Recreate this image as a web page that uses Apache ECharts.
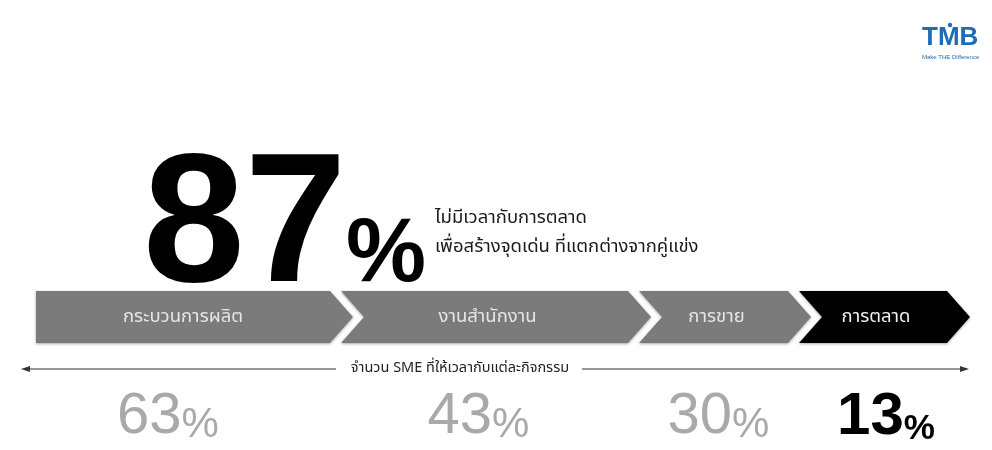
<!DOCTYPE html>
<html><head><meta charset="utf-8">
<script src="https://cdn.jsdelivr.net/npm/echarts@6/dist/echarts.min.js"></script>
<style>html,body{margin:0;padding:0;background:#fff}#c{width:992px;height:450px}</style>
</head><body><div id="c"></div>
<script>
// ---- data ----
const activities = ['กระบวนการผลิต', 'งานสำนักงาน', 'การขาย', 'การตลาด'];
const smeShare = [63, 43, 30, 13];
const highlightIndex = 3;
const headlineValue = 87;
const headlineLines = ['ไม่มีเวลากับการตลาด', 'เพื่อสร้างจุดเด่น ที่แตกต่างจากคู่แข่ง'];
const axisCaption = 'จำนวน SME ที่ให้เวลากับแต่ละกิจกรรม';
const brandName = 'TMB';
const brandTagline = 'Make THE Difference';

// ---- layout (not data) ----
const chevronWidths = [317, 310, 172, 171];
const chevronOverlap = 12;
const tipDepth = 23;
const pctShift = [-15, -9, 2, 10];
const thaiFont = '"Noto Sans Thai", "Noto Sans Thai UI", "Noto Sans", sans-serif';
const latinFont = '"Liberation Sans", Arial, sans-serif';

const segData = [];
let cursor = 0;
activities.forEach((name, i) => {
  const start = cursor;
  const end = start + chevronWidths[i];
  segData.push([start, end, i, smeShare[i]]);
  cursor = end - chevronOverlap;
});
const totalSpan = segData[segData.length - 1][1];

function renderItem(params, api) {
  const i = api.value(2);
  const tl = api.coord([api.value(0), 1]);
  const br = api.coord([api.value(1), 0]);
  const L = tl[0], T = tl[1], R = br[0], B = br[1], M = (T + B) / 2;
  const pts = [[L, T], [R - tipDepth, T], [R, M], [R - tipDepth, B], [L, B]];
  if (i > 0) pts.push([L + tipDepth, M]);
  const dark = i === highlightIndex;
  const cx = (L + R - tipDepth) / 2 + (i > 0 ? 3 : 0);
  const v = api.value(3);
  return {
    type: 'group',
    children: [
      {
        type: 'polygon',
        shape: { points: pts },
        style: {
          fill: dark ? '#000000' : '#7b7b7b',
          shadowBlur: 3, shadowColor: 'rgba(0,0,0,0.35)', shadowOffsetY: 1
        }
      },
      {
        type: 'text',
        style: {
          text: activities[i], x: cx, y: M + 1,
          align: 'center', verticalAlign: 'middle',
          fill: dark ? '#f0f0f0' : '#e6e6e6',
          fontSize: 18.5, fontFamily: thaiFont
        }
      },
      {
        type: 'text',
        style: {
          text: '{n|' + v + '}{p|%}',
          x: cx + pctShift[i], y: B + 74,
          align: 'center', verticalAlign: 'middle',
          rich: dark ? {
            n: { fontSize: 60, fontWeight: 'bold', fill: '#000', fontFamily: latinFont, verticalAlign: 'bottom', lineHeight: 60 },
            p: { fontSize: 35, fontWeight: 'bold', fill: '#000', fontFamily: latinFont, verticalAlign: 'bottom', lineHeight: 38 }
          } : {
            n: { fontSize: 58, fill: '#a9a9a9', fontFamily: latinFont, verticalAlign: 'bottom', lineHeight: 58 },
            p: { fontSize: 42, fill: '#a9a9a9', fontFamily: latinFont, verticalAlign: 'bottom', lineHeight: 44 }
          }
        }
      }
    ]
  };
}

const chart = echarts.init(document.getElementById('c'));
chart.setOption({
  backgroundColor: '#ffffff',
  animation: false,
  grid: { left: 36, right: 22, top: 291, bottom: 107 },
  xAxis: { type: 'value', min: 0, max: totalSpan, show: false },
  yAxis: { type: 'value', min: 0, max: 1, show: false },
  series: [{
    type: 'custom',
    renderItem: renderItem,
    data: segData,
    encode: { x: [0, 1], y: 2 },
    clip: false,
    z: 2
  }],
  graphic: [
    { type: 'text', left: 143, top: 139, z: 1,
      style: { text: String(headlineValue), font: 'bold 183px ' + latinFont, fill: '#000' } },
    { type: 'text', left: 346, top: 211, z: 1,
      style: { text: '%', font: 'bold 90px ' + latinFont, fill: '#000' } },
    { type: 'text', left: 435, top: 210,
      style: { text: headlineLines[0], font: '18.5px ' + thaiFont, fill: '#1a1a1a' } },
    { type: 'text', left: 435, top: 239,
      style: { text: headlineLines[1], font: '18.5px ' + thaiFont, fill: '#1a1a1a' } },
    // arrow line
    { type: 'line', shape: { x1: 26, y1: 369, x2: 336, y2: 369 }, style: { stroke: '#333', lineWidth: 1.2 } },
    { type: 'line', shape: { x1: 582, y1: 369, x2: 964, y2: 369 }, style: { stroke: '#333', lineWidth: 1.2 } },
    { type: 'polygon', shape: { points: [[21, 369], [30, 366], [30, 372]] }, style: { fill: '#333' } },
    { type: 'polygon', shape: { points: [[969, 369], [960, 366], [960, 372]] }, style: { fill: '#333' } },
    { type: 'text', x: 460, y: 369,
      style: { text: axisCaption, font: '14.5px ' + thaiFont, fill: '#222', align: 'center', verticalAlign: 'middle' } },
    // brand
    { type: 'text', left: 922, top: 25,
      style: { text: brandName, font: 'bold 26px ' + latinFont, fill: '#1e6cb3' } },
    { type: 'circle', shape: { cx: 950, cy: 25, r: 2.2 }, style: { fill: '#1e6cb3' } },
    { type: 'text', left: 922, top: 54,
      style: { text: brandTagline, font: '6px ' + latinFont, fill: '#1e6cb3' } }
  ]
});
</script>
</body></html>
